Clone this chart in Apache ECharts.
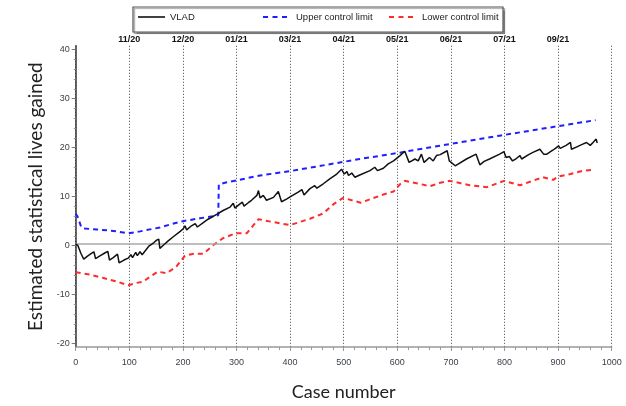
<!DOCTYPE html>
<html><head><meta charset="utf-8">
<script src="https://cdn.jsdelivr.net/npm/echarts@6/dist/echarts.min.js"></script>
<style>html,body{margin:0;padding:0;background:#fff}#c{width:626px;height:406px}</style>
</head><body><div id="c"></div>
<script>
const seriesNames = ['VLAD', 'Upper control limit', 'Lower control limit'];
const monthCases = [100, 200, 300, 400, 500, 600, 700, 800, 900];
const monthLabels = ['11/20', '12/20', '01/21', '03/21', '04/21', '05/21', '06/21', '07/21', '09/21'];

const vlad = [[0,0],[4,-0.3],[10,-2],[15,-3.1],[22,-2.5],[30,-1.9],[34,-1.6],[37,-3.0],[46,-2.4],[55,-1.8],[60,-1.5],[63,-3.3],[70,-2.8],[78,-2.1],[81,-3.9],[90,-3.3],[98,-2.9],[103,-2.2],[106,-2.8],[112,-1.7],[115,-2.4],[120,-1.6],[124,-2.2],[136,-0.5],[146,0.3],[151,0.8],[155,1.0],[157,-0.9],[165,-0.1],[172,0.6],[182,1.5],[195,2.6],[201,3.2],[204,3.75],[207,2.9],[216,3.75],[223,4.2],[227,3.5],[238,4.4],[247,5.1],[263,6.1],[275,6.9],[288,7.6],[294,8.4],[297,7.4],[306,8.2],[311,8.6],[314,7.8],[322,8.5],[328,9.0],[338,10.0],[341,11.0],[344,9.5],[350,10.0],[356,9.0],[369,9.6],[378,10.8],[384,8.7],[394,9.3],[400,9.7],[415,10.7],[422,11.2],[426,10.1],[437,11.4],[446,12.0],[450,11.5],[462,12.4],[474,13.4],[487,14.4],[496,15.4],[499,15.8],[501,14.4],[506,14.9],[509,14.1],[515,14.6],[521,13.75],[530,14.2],[549,15.1],[558,15.8],[563,15.1],[574,15.6],[583,16.5],[593,17.1],[605,18.2],[614,19.1],[622,16.8],[633,17.5],[639,17.1],[645,18.5],[650,16.8],[660,17.8],[667,17.1],[673,18.2],[680,18.4],[693,19.2],[697,17.1],[700,17.0],[708,16.1],[729,17.5],[747,18.5],[754,16.3],[762,17.0],[772,17.5],[791,18.5],[799,19.0],[803,17.8],[809,18.0],[812,17.6],[815,17.1],[822,17.6],[829,18.2],[832,17.5],[845,18.4],[854,18.9],[866,19.5],[869,19.8],[873,18.5],[879,18.5],[890,19.3],[895,19.7],[901,20.2],[904,19.7],[915,20.3],[923,20.9],[925,19.5],[935,20.0],[945,20.5],[953,20.9],[956,21.2],[960,20.3],[966,21.0],[971,21.6],[973,20.8]];

const ucl = [[0,6.3],[4,5.5],[10,3.6],[14,3.2],[40,3.0],[70,2.7],[98,2.2],[120,2.6],[157,3.4],[195,4.6],[232,5.3],[266,5.9],[267,12.3],[282,12.7],[344,14.1],[400,15.0],[499,16.9],[530,17.5],[605,18.8],[614,19.0],[700,20.6],[791,22.3],[880,23.9],[970,25.5]];

const lcl = [[0,-5.8],[27,-6.3],[52,-7.0],[76,-7.7],[98,-8.5],[114,-8.0],[125,-7.8],[142,-6.5],[153,-5.7],[170,-6.0],[188,-4.6],[204,-2.4],[220,-2.0],[238,-2.0],[257,-0.2],[275,1.2],[298,2.2],[319,2.2],[341,5.1],[369,4.5],[400,3.9],[437,5.2],[462,6.3],[481,8.2],[499,9.5],[532,8.5],[549,9.2],[574,10.2],[593,10.8],[605,12.3],[614,13.0],[636,12.5],[661,11.9],[680,12.6],[698,13.0],[735,12.1],[767,11.7],[799,13.0],[829,12.1],[872,13.75],[891,13.2],[900,13.9],[923,14.4],[947,15.1],[967,15.3]];

// axis extents
const yFullMin = -21.2, yFullMax = 40.8;
const yTickMin = -20, yTickMax = 40;

const W = 626, H = 406;
const gridLeft = 75.7, gridRight = 14.3, gridTop = 45.8, gridBottom = 56.4;
const plotH = H - gridTop - gridBottom;
const pxPerUnit = plotH / (yFullMax - yFullMin);
const tickGridTop = gridTop + (yFullMax - yTickMax) * pxPerUnit;
const tickGridBottom = gridBottom + (yTickMin - yFullMin) * pxPerUnit;

const chart = echarts.init(document.getElementById('c'), null, {renderer: 'canvas'});
const legendText = {fontSize: 9.5, color: '#222', fontFamily: 'Liberation Sans'};
const solidIcon = 'path://M0,0h27v1.6h-27z';
const dashIcon = 'path://M0,0h5v2h-5zM9.5,0h5v2h-5zM19,0h5v2h-5z';
const padRich = {t: {padding: [0, 0, 0, 4], fontSize: 9.5, color: '#222', fontFamily: 'Liberation Sans'}};
chart.setOption({
  animation: false,
  backgroundColor: '#fff',
  graphic: [{
    type: 'rect', z: 0,
    shape: {x: 133, y: 7, width: 370, height: 25},
    style: {fill: '#fff', stroke: '#555', lineWidth: 1.2, shadowColor: 'rgba(0,0,0,0.35)', shadowOffsetX: 1.5, shadowOffsetY: 1.5, shadowBlur: 1}
  }],
  legend: [
    {data: [seriesNames[0]], left: 138, top: 12, icon: solidIcon, itemWidth: 27, itemHeight: 10, textStyle: legendText, padding: 0},
    {data: [seriesNames[1]], left: 263, top: 12, icon: dashIcon, itemWidth: 24, itemHeight: 10, textStyle: {rich: padRich},
      formatter: n => '{t|' + n + '}', padding: 0},
    {data: [seriesNames[2]], left: 389, top: 12, icon: dashIcon, itemWidth: 24, itemHeight: 10, textStyle: {rich: padRich},
      formatter: n => '{t|' + n + '}', padding: 0}
  ],
  grid: [
    {left: gridLeft, right: gridRight, top: gridTop, bottom: gridBottom, containLabel: false},
    {left: gridLeft, right: gridRight, top: tickGridTop, bottom: tickGridBottom, containLabel: false}
  ],
  xAxis: [{
    gridIndex: 0, type: 'value', min: 0, max: 1000, interval: 100,
    name: 'Case number', nameLocation: 'middle', nameGap: 36,
    nameTextStyle: {fontSize: 18, color: '#222', fontFamily: 'Lato'},
    axisLine: {show: true, onZero: false, lineStyle: {color: '#999', width: 1.5}},
    axisTick: {show: true, length: 4, lineStyle: {color: '#999'}},
    minorTick: {show: true, splitNumber: 5, length: 3, lineStyle: {color: '#999'}},
    axisLabel: {fontSize: 9, color: '#3a3f4a', margin: 11, fontFamily: 'Liberation Sans', formatter: v => String(v)},
    splitLine: {show: true, lineStyle: {color: '#444', width: 1, type: [1, 2]}}
  }, {
    gridIndex: 0, type: 'value', position: 'top', min: 0, max: 1000, interval: 100,
    axisLine: {show: false}, axisTick: {show: false}, splitLine: {show: false},
    axisLabel: {fontSize: 9, fontWeight: 'bold', color: '#111', margin: 2, fontFamily: 'Liberation Sans',
      formatter: v => { const i = monthCases.indexOf(v); return i >= 0 ? monthLabels[i] : ''; }}
  }, {
    gridIndex: 1, type: 'value', min: 0, max: 1000, show: false
  }],
  yAxis: [{
    gridIndex: 0, type: 'value', min: yFullMin, max: yFullMax,
    axisLine: {show: true, onZero: false, lineStyle: {color: '#333', width: 1.5}},
    axisTick: {show: false}, axisLabel: {show: false}, splitLine: {show: false}
  }, {
    gridIndex: 1, type: 'value', min: yTickMin, max: yTickMax, interval: 10,
    name: 'Estimated statistical lives gained', nameLocation: 'middle', nameGap: 30,
    nameTextStyle: {fontSize: 19, color: '#222', fontFamily: 'Lato'},
    axisLine: {show: false, onZero: false},
    axisTick: {show: true, length: 4, lineStyle: {color: '#777'}},
    minorTick: {show: true, splitNumber: 5, length: 2, lineStyle: {color: '#999'}},
    axisLabel: {fontSize: 9, color: '#3a3f4a', margin: 6, fontFamily: 'Liberation Sans'},
    splitLine: {show: false}
  }],
  series: [
    {name: seriesNames[0], type: 'line', data: vlad, showSymbol: false, symbol: 'none', z: 5,
      lineStyle: {color: '#111', width: 1.5}, itemStyle: {color: '#111'},
      markLine: {silent: true, symbol: 'none', label: {show: false},
        lineStyle: {color: '#a8a8a8', width: 1.5, type: 'solid'}, data: [{yAxis: 0}]}},
    {name: seriesNames[1], type: 'line', data: ucl, showSymbol: false, symbol: 'none', z: 4,
      lineStyle: {color: '#1f1fff', width: 2, type: [5, 4]}, itemStyle: {color: '#1f1fff'}},
    {name: seriesNames[2], type: 'line', data: lcl, showSymbol: false, symbol: 'none', z: 4,
      lineStyle: {color: '#ff2a2a', width: 2, type: [5, 4]}, itemStyle: {color: '#ff2a2a'}}
  ]
});
</script>
</body></html>
